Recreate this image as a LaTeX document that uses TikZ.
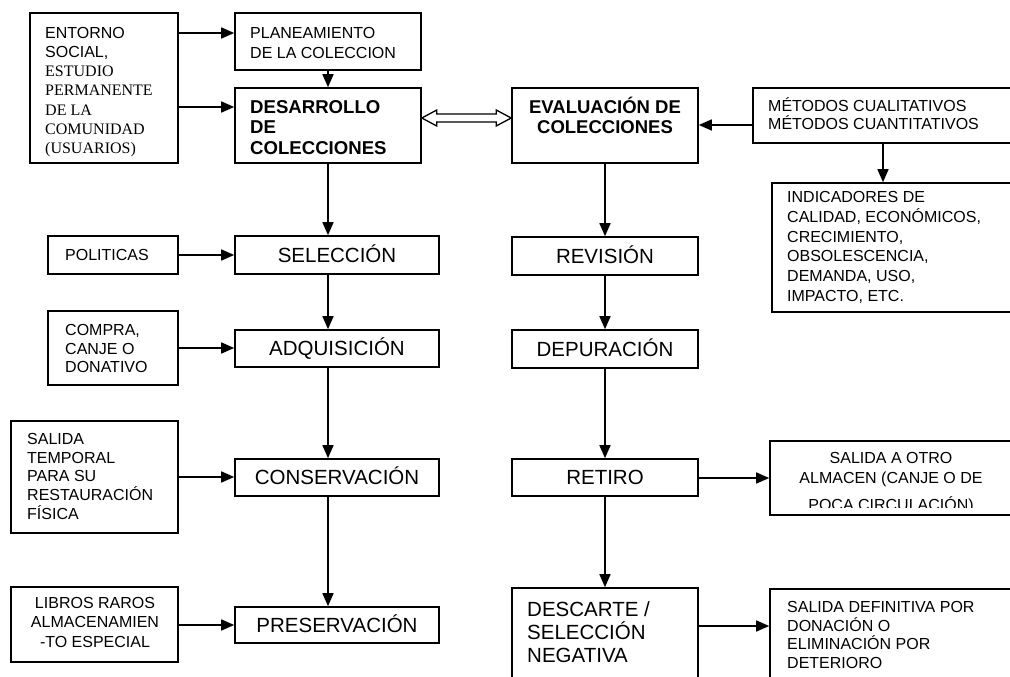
\documentclass[tikz,border=0pt]{standalone}
\usepackage{fontspec}
\setmainfont{Liberation Sans}
\newfontfamily\serf{Liberation Serif}
\usetikzlibrary{arrows.meta,calc}
\newcommand{\fs}[2]{\fontsize{#1}{#2}\selectfont}
\tikzset{
  box/.style={draw, line width=1.6pt, inner sep=0pt},
  lbl/.style={font=\fs{20.5}{24}, text height=14.7pt, text depth=0pt},
  sm/.style={inner sep=0pt, align=left, font=\fs{16}{19.2}},
  arr/.style={line width=1.6pt, -{Triangle[length=13pt,width=11pt]}},
}
\begin{document}
\begin{tikzpicture}[x=1pt,y=-1pt]
\useasboundingbox (0,0) rectangle (1010,677);
\fill[white] (0,0) rectangle (1010,677);
\clip (0,0) rectangle (1010,677);

% ---------- boxes ----------
\node[box, minimum width=148, minimum height=150] (ent) at (104,88) {};
\node[box, minimum width=186, minimum height=57] (plan) at (328,41.5) {};
\node[box, minimum width=186, minimum height=75] (des) at (328,125.5) {};
\node[box, minimum width=186, minimum height=75] (eval) at (605,125.5) {};
\node[box, minimum width=277, minimum height=55] (met) at (891.5,115.5) {};
\node[box, minimum width=250, minimum height=129] (ind) at (897,247.5) {};

\node[box, minimum width=130, minimum height=38] (pol) at (113,255) {};
\node[box, lbl, minimum width=204, minimum height=38] (sel) at (337,255) {SELECCIÓN};
\node[box, minimum width=130, minimum height=74] (comp) at (113,348) {};
\node[box, lbl, minimum width=204, minimum height=37] (adq) at (337,348.5) {ADQUISICIÓN};
\node[box, minimum width=167, minimum height=112] (sal) at (94.5,477) {};
\node[box, lbl, minimum width=204, minimum height=37] (cons) at (337,477.5) {CONSERVACIÓN};
\node[box, minimum width=167, minimum height=75] (lib) at (94.5,624.5) {};
\node[box, lbl, minimum width=204, minimum height=36] (pres) at (337,625) {PRESERVACIÓN};

\node[box, lbl, minimum width=186, minimum height=38] (rev) at (605,256) {REVISIÓN};
\node[box, lbl, minimum width=186, minimum height=38] (dep) at (605,349) {DEPURACIÓN};
\node[box, lbl, minimum width=186, minimum height=37] (ret) at (605,477.5) {RETIRO};
\node[box, minimum width=242, minimum height=74] (otro) at (891,478) {};
\node[box, minimum width=186, minimum height=112] (desc) at (605,644) {};
\node[box, minimum width=250, minimum height=111] (def) at (895,644.5) {};

% ---------- texts ----------
\node[sm, anchor=north west] (ent-t) at (45,27)
  {ENTORNO\\SOCIAL,\\{\serf ESTUDIO}\\{\serf PERMANENTE}\\{\serf DE LA}\\{\serf COMUNIDAD}\\{\serf (USUARIOS)}};
\node[sm, anchor=north west, font=\fs{16}{20}] (plan-t) at (250,27) {PLANEAMIENTO\\DE LA COLECCION};
\node[sm, anchor=north west, font=\bfseries\fs{18.6}{20.5}] (des-t) at (250,100) {DESARROLLO\\DE\\COLECCIONES};
\node[sm, anchor=north, align=center, font=\bfseries\fs{18.5}{20}] (eval-t) at (605,97) {EVALUACIÓN DE\\COLECCIONES};
\node[sm, anchor=north west, font=\fs{16}{18.3}] (met-t) at (768,97) {MÉTODOS CUALITATIVOS\\MÉTODOS CUANTITATIVOS};
\node[sm, anchor=north west, font=\fs{16}{19.7}] (ind-t) at (787,191.5)
  {INDICADORES DE\\CALIDAD, ECONÓMICOS,\\CRECIMIENTO,\\OBSOLESCENCIA,\\DEMANDA, USO,\\IMPACTO, ETC.};
\node[sm, anchor=west] (pol-t) at (65,255) {POLITICAS};
\node[sm, anchor=north west, font=\fs{16}{18.5}] (comp-t) at (65,324.5) {COMPRA,\\CANJE O\\DONATIVO};
\node[sm, anchor=north west, font=\fs{16}{18.75}] (sal-t) at (27,433) {SALIDA\\TEMPORAL\\PARA SU\\RESTAURACIÓN\\FÍSICA};
\node[sm, anchor=north, align=center, font=\fs{16}{19.5}] (lib-t) at (95,597) {LIBROS RAROS\\ALMACENAMIEN\\-TO ESPECIAL};
\node[sm, anchor=north west, font=\fs{20.5}{23.3}] (desc-t) at (527,601) {DESCARTE /\\SELECCIÓN\\NEGATIVA};
\node[sm, anchor=north west, font=\fs{16}{18.8}] (def-t) at (787,601) {SALIDA DEFINITIVA POR\\DONACIÓN O\\ELIMINACIÓN POR\\DETERIORO};
\node[sm, anchor=north, align=center, font=\fs{16}{20}] (otro-t) at (891,452.5) {SALIDA A OTRO\\ALMACEN (CANJE O DE};
\begin{scope}
  \clip (772,441) rectangle (1010,507);
  \node[sm, anchor=north, font=\fs{16}{20}] (otro-t3) at (891,496.5) {POCA CIRCULACIÓN)};
\end{scope}

% ---------- connectors ----------
\draw[arr] (ent.east |- 0,33) -- (plan.west |- 0,33);
\draw[arr] (ent.east |- 0,107) -- (des.west |- 0,107);
\draw[arr] (plan.south) -- (des.north);
\draw[arr] (met.west |- 0,125) -- (eval.east |- 0,125);
\draw[arr] (met.south -| 883,0) -- (ind.north -| 883,0);

\draw[arr] (des.south) -- (sel.north -| des.south);
\draw[arr] (sel.south -| des.south) -- (adq.north -| des.south);
\draw[arr] (adq.south -| des.south) -- (cons.north -| des.south);
\draw[arr] (cons.south -| des.south) -- (pres.north -| des.south);

\draw[arr] (pol.east) -- (sel.west |- pol.east);
\draw[arr] (comp.east) -- (adq.west |- comp.east);
\draw[arr] (sal.east |- 0,477) -- (cons.west |- 0,477);
\draw[arr] (lib.east |- 0,625) -- (pres.west |- 0,625);

\draw[arr] (eval.south) -- (rev.north);
\draw[arr] (rev.south) -- (dep.north);
\draw[arr] (dep.south) -- (ret.north);
\draw[arr] (ret.south) -- (desc.north);
\draw[arr] (ret.east |- 0,478) -- (otro.west |- 0,478);
\draw[arr] (desc.east |- 0,626) -- (def.west |- 0,626);

% hollow double arrow
\draw[line width=1.3pt, line join=miter]
  (des.east |- 0,118) coordinate (dl)
  -- ++(15,-8) -- ++(0,4)
  -- ($(eval.west |- 0,118)+(-15,-4)$) -- ++(0,-4)
  -- (eval.west |- 0,118) coordinate (dr)
  -- ++(-15,8) -- ++(0,-4)
  -- ($(dl)+(15,4)$) -- ++(0,4) -- cycle;
\end{tikzpicture}
\end{document}
